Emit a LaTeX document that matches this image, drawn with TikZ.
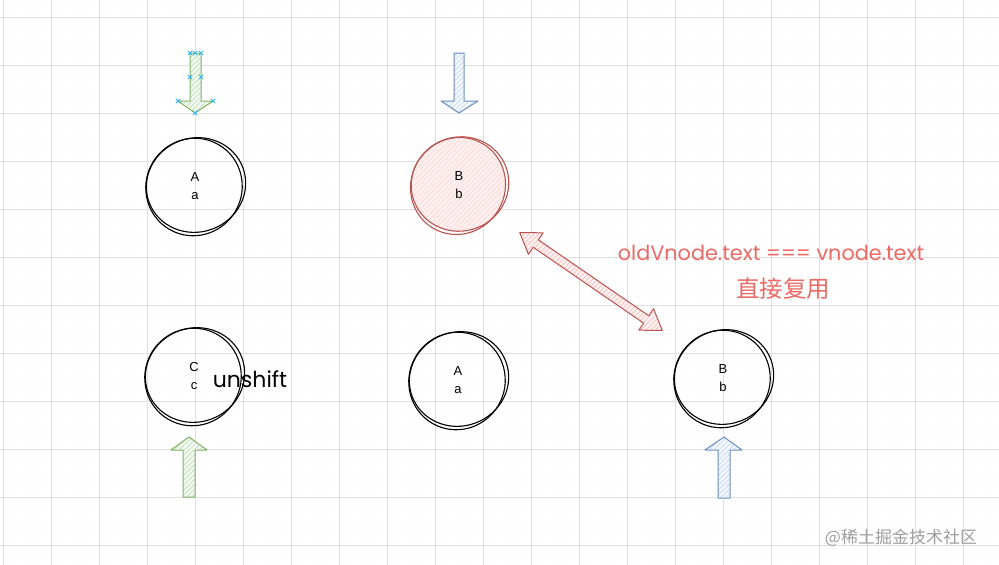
\documentclass[tikz,border=0pt]{standalone}
\usepackage{fontspec}
\setmainfont{Liberation Sans}
\newfontfamily\cjk{Noto Sans CJK SC}
\newfontfamily\hand{Poppins}
\usetikzlibrary{patterns.meta,calc}
\definecolor{gstroke}{HTML}{82B366}
\definecolor{gfill}{HTML}{D5E8D4}
\definecolor{bstroke}{HTML}{6C8EBF}
\definecolor{bfill}{HTML}{DAE8FC}
\definecolor{rstroke}{HTML}{B85450}
\definecolor{rfill}{HTML}{F8CECC}
\definecolor{rtext}{HTML}{EA6B66}
\definecolor{sel}{HTML}{29B6F2}
\begin{document}
\begin{tikzpicture}[x=1pt,y=-1pt,
  minorgrid/.style={draw=black!1.5, line width=0.6pt},
  majorgrid/.style={draw=black!12, line width=0.8pt},
  vnode/.style={circle, minimum size=96pt, inner sep=0pt, align=center, font=\fontsize{13}{15}\selectfont},
  vtext/.style={align=center, font=\fontsize{13}{15}\selectfont},
  sketch/.style={line width=1.1pt, draw=#1},
  sketch/.default=black,
  hatch/.style={pattern={Lines[angle=45,distance=3.5pt,line width=0.7pt]}, pattern color=#1},
  blockarrow/.style={draw=#1, line width=1pt, line join=round},
  selmark/.style={draw=sel, line width=0.8pt}
]
\useasboundingbox (0,0) rectangle (999,565);
\fill[white] (0,0) rectangle (999,565);
\foreach \x in {3,15,...,999} \draw[minorgrid] (\x,0) -- (\x,565);
\foreach \y in {5,17,...,565} \draw[minorgrid] (0,\y) -- (999,\y);
\foreach \x in {3,51,...,999} \draw[majorgrid] (\x,0) -- (\x,565);
\foreach \y in {17,65,...,565} \draw[majorgrid] (0,\y) -- (999,\y);

% nodes
\node[vnode] (A1) at (195,186) {A\\[3pt]a};
\node[vnode] (B1) at (459,185) {};
\node[vnode] (C2) at (194,376) {};
\node[vnode] (A2) at (458,380) {A\\[3pt]a};
\node[vnode] (B2) at (723,378) {B\\[3pt]b};

% red filled circle
\fill[rfill!30] (B1.center) circle[radius=47pt];
\path[hatch=rfill!80] (B1.center) circle[radius=46pt];
\node[vtext] (B1t) at (B1.center) {B\\[3pt]b};
\node[vtext] (C2t) at (C2.center) {C\\[3pt]c};

% sketchy outlines
\foreach \n in {A1,C2,A2,B2}{
  \draw[sketch] ($(\n.center)+(1,-1)$) circle[x radius=50pt, y radius=47pt, rotate=20];
  \draw[sketch] ($(\n.center)+(-1,1)$) circle[x radius=48pt, y radius=49pt, rotate=-30];
}
\draw[sketch=rstroke] ($(B1.center)+(1,-1)$) circle[x radius=49pt, y radius=47pt, rotate=20];
\draw[sketch=rstroke] ($(B1.center)+(-1,1)$) circle[x radius=47pt, y radius=49pt, rotate=-30];

% green down arrow (selected)
\draw[blockarrow=gstroke, preaction={fill=gfill!30}, hatch=gfill!80!gstroke]
  (195,113) -- (178,101) -- (190,101) -- (190,53) -- (201,53) -- (201,101) -- (213,101) -- cycle;
\foreach \p in {(190,53),(195,53),(201,53),(190,77),(201,77),(178,101),(213,101),(195,113)}
  \draw[selmark] \p ++(-2.2,-2.2) -- ++(4.4,4.4) \p ++(-2.2,2.2) -- ++(4.4,-4.4);

% blue down arrow
\draw[blockarrow=bstroke, preaction={fill=bfill!30}, hatch=bfill!80!bstroke]
  (459,113) -- (441,101) -- (454,101) -- (454,53) -- (464,53) -- (464,101) -- (478,101) -- cycle;

% green up arrow
\draw[blockarrow=gstroke, preaction={fill=gfill!30}, hatch=gfill!80!gstroke]
  (189,437) -- (171,450) -- (183,450) -- (183,497) -- (195,497) -- (195,450) -- (207,450) -- cycle;

% blue up arrow
\draw[blockarrow=bstroke, preaction={fill=bfill!30}, hatch=bfill!80!bstroke]
  (724,437) -- (705,450) -- (718,450) -- (718,498) -- (730,498) -- (730,450) -- (742,450) -- cycle;

% double arrow between B1 and B2
\coordinate (mid) at ($(B1.center)!0.5!(B2.center)$);
\begin{scope}[shift={(mid)}, rotate=-34.5]
\draw[blockarrow=rstroke, preaction={fill=rfill!30}, hatch=rfill!90!rstroke]
  (-86.5,0) -- (-67,13) -- (-67,4.5) -- (67,4.5) -- (67,13) -- (86.5,0) -- (67,-13) -- (67,-4.5) -- (-67,-4.5) -- (-67,-13) -- cycle;
\end{scope}

% texts
\node[text=rtext, font=\hand\fontsize{20.8}{24}\selectfont] (eq) at (771,253) {oldVnode.text === vnode.text};
\node[text=rtext, font=\cjk\fontsize{23.5}{28}\selectfont] (reuse) at (783,289) {直接复用};
\node[font=\hand\fontsize{22}{26}\selectfont] (uns) at (250,379) {unshift};
\node[text=black!38, font=\cjk\fontsize{17}{20}\selectfont] (wm) at (901,538) {@稀土掘金技术社区};
\end{tikzpicture}
\end{document}
